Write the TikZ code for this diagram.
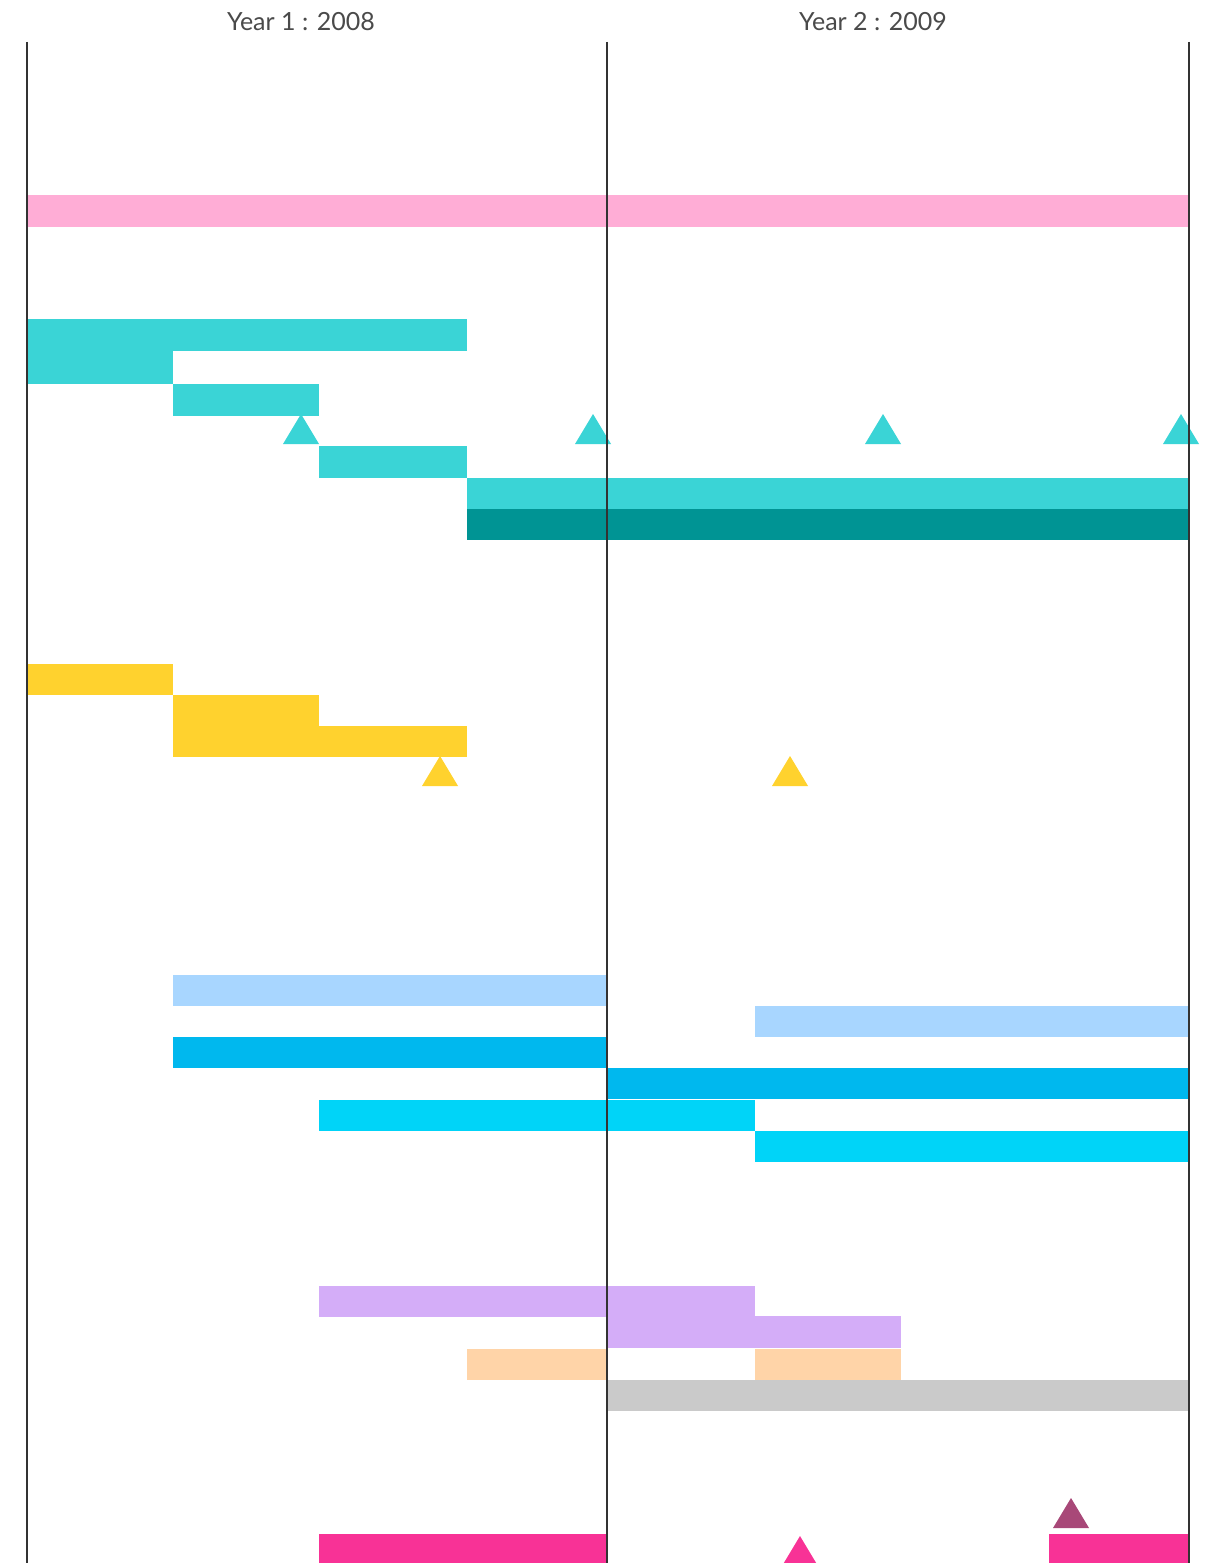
\documentclass[tikz,border=0pt]{standalone}
\usepackage{fontspec}
\setmainfont{Lato}
\definecolor{pinkl}{HTML}{FFADD6}
\definecolor{teal1}{HTML}{3AD4D6}
\definecolor{teal2}{HTML}{009494}
\definecolor{yel}{HTML}{FFD22E}
\definecolor{blul}{HTML}{A8D6FF}
\definecolor{blum}{HTML}{00B8EE}
\definecolor{cyn}{HTML}{00D4F8}
\definecolor{lav}{HTML}{D4ADF8}
\definecolor{pch}{HTML}{FFD4A8}
\definecolor{gry}{HTML}{CACACA}
\definecolor{mag}{HTML}{F83296}
\definecolor{plum}{HTML}{A84878}
\definecolor{txt}{HTML}{4A4A4A}
\definecolor{ln}{HTML}{333333}
\tikzset{
  bar/.style={fill=#1, draw=none},
  tri/.style={fill=#1, draw=none},
  yearlabel/.style={text=txt, font=\fontsize{25}{28}\selectfont, anchor=center, inner sep=0pt},
  yline/.style={draw=ln, line width=1.6pt}
}
\newcommand{\mytri}[4]{\fill[#1] (#2-18,#4) -- (#2,#3) -- (#2+18,#4) -- cycle;}
\begin{document}
\begin{tikzpicture}[x=1pt,y=-1pt]
\useasboundingbox (0,0) rectangle (1221,1563);
\clip (0,0) rectangle (1221,1563);
\fill[white] (0,0) rectangle (1221,1563);
% pink
\fill[bar=pinkl] (27,195) rectangle (1189,227);
% teal
\fill[bar=teal1] (27,319) rectangle (467,351);
\fill[bar=teal1] (27,350) rectangle (173,384);
\fill[bar=teal1] (173,384) rectangle (319,416);
\fill[bar=teal1] (319,446) rectangle (467,478);
\fill[bar=teal1] (467,478) rectangle (1189,509);
\fill[bar=teal2] (467,509) rectangle (1189,540);
\mytri{teal1}{301}{414}{444}
\mytri{teal1}{593}{414}{444}
\mytri{teal1}{883}{414}{444}
\mytri{teal1}{1181}{414}{444}
% yellow
\fill[bar=yel] (27,664) rectangle (173,695);
\fill[bar=yel] (173,695) rectangle (319,757);
\fill[bar=yel] (318,726) rectangle (467,757);
\mytri{yel}{440}{756}{786}
\mytri{yel}{790}{756}{786}
% blues
\fill[bar=blul] (173,975) rectangle (607,1006);
\fill[bar=blul] (755,1006) rectangle (1189,1037);
\fill[bar=blum] (173,1037) rectangle (607,1068);
\fill[bar=blum] (607,1068) rectangle (1189,1099);
\fill[bar=cyn] (319,1100) rectangle (755,1131);
\fill[bar=cyn] (755,1131) rectangle (1189,1162);
% lavender / peach / grey
\fill[bar=lav] (319,1286) rectangle (755,1317);
\fill[bar=lav] (607,1316) rectangle (901,1348);
\fill[bar=pch] (467,1349) rectangle (607,1380);
\fill[bar=pch] (755,1349) rectangle (901,1380);
\fill[bar=gry] (607,1380) rectangle (1189,1411);
% magenta
\fill[bar=mag] (319,1534) rectangle (607,1563);
\fill[bar=mag] (1049,1534) rectangle (1189,1563);
\mytri{mag}{800}{1536}{1566}
\mytri{plum}{1071}{1498}{1528}
% year lines
\draw[yline] (27,42) coordinate (l1) -- (27,1563) coordinate (l1e);
\draw[yline] (607,42) coordinate (l2) -- (607,1563) coordinate (l2e);
\draw[yline] (1189,42) coordinate (l3) -- (1189,1563) coordinate (l3e);
\node[yearlabel] (y1) at (301,22) {Year 1 : 2008};
\node[yearlabel] (y2) at (873,22) {Year 2 : 2009};
\end{tikzpicture}
\end{document}
